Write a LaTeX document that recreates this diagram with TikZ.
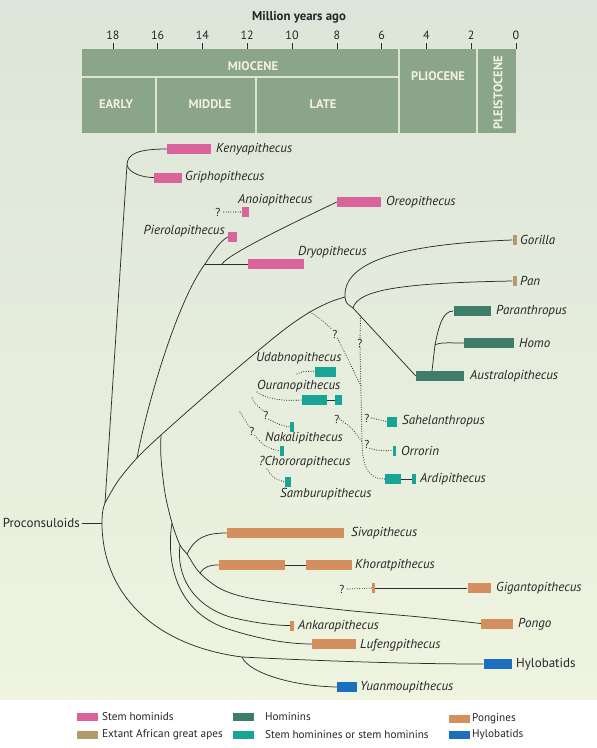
\documentclass[tikz,border=0pt]{standalone}
\usepackage{fontspec}
\setmainfont{PT Sans}
\usetikzlibrary{calc}
\definecolor{pinkc}{HTML}{D9639B}
\definecolor{tanc}{HTML}{B39B6A}
\definecolor{hominc}{HTML}{3E7D69}
\definecolor{stemc}{HTML}{18A596}
\definecolor{pongc}{HTML}{D38F5E}
\definecolor{hyloc}{HTML}{1C6EBF}
\definecolor{boxc}{HTML}{8AA58A}
\definecolor{divc}{HTML}{DCE4D6}
\definecolor{perc}{HTML}{F3F1DE}
\definecolor{linec}{HTML}{2E2E2E}
\definecolor{labc}{HTML}{262626}
\definecolor{bgtop}{HTML}{DCE5D9}
\definecolor{bgbot}{HTML}{EFF4E0}
\begin{document}
\begin{tikzpicture}[x=1pt,y=-1pt,
  br/.style={draw=linec, line width=0.75pt},
  dl/.style={draw=linec, line width=1.1pt, dash pattern=on 0pt off 2.4pt, line cap=round},
  bar/.style={fill=#1, draw=none, inner sep=0pt, minimum height=10pt},
  lab/.style={font=\fontsize{13}{15}\selectfont\itshape, text=labc, inner sep=0pt, anchor=west},
  ulab/.style={font=\fontsize{13}{15}\selectfont, text=labc, inner sep=0pt, anchor=west},
  qm/.style={font=\fontsize{11.5}{13}\selectfont, text=labc, inner sep=0pt},
  leg/.style={font=\fontsize{11.2}{13}\selectfont, text=labc, inner sep=0pt, anchor=west},
  sw/.style={fill=#1, draw=none, inner sep=0pt, minimum width=21pt, minimum height=8pt},
  per/.style={font=\fontsize{12.5}{14}\selectfont\bfseries, text=perc, inner sep=0pt},
  tick/.style={font=\fontsize{12}{14}\selectfont, text=labc, inner sep=0pt}
]
\useasboundingbox (0,0) rectangle (597,748);
\shade[top color=bgtop, bottom color=bgbot] (0,0) rectangle (597,700);
\fill[white] (0,700) rectangle (597,748);

% ---------- time scale ----------
\node[font=\fontsize{12.8}{14}\selectfont\bfseries, text=labc] (title) at (299,17) {Million years ago};
\fill[boxc] (82,49) rectangle (516,133);
\foreach \t in {0,2,...,18}{
  \draw[linec, line width=0.6pt] ({516-22.4*\t},43) -- ({516-22.4*\t},49);
  \node[tick] at ({516-22.4*\t},35) {\t};
}
\draw[divc, line width=1.6pt] (82,77) -- (399,77);
\draw[divc, line width=1.6pt] (156,77) -- (156,133);
\draw[divc, line width=1.6pt] (256,77) -- (256,133);
\draw[divc, line width=1.6pt] (399,49) -- (399,133);
\draw[divc, line width=1.6pt] (477,49) -- (477,133);
\node[per] (mio) at (253,66) {MIOCENE};
\node[per] (early) at (116,104) {EARLY};
\node[per] (middle) at (210,104) {MIDDLE};
\node[per] (late) at (323,104) {LATE};
\node[per] (plio) at (438,76) {PLIOCENE};
\node[per, rotate=90] (pleist) at (498,93) {PLEISTOCENE};

% ---------- bars ----------
\node[bar=pinkc, minimum width=44pt] (kenya) at (189,149) {};
\node[bar=pinkc, minimum width=28pt] (gripho) at (168,177.5) {};
\node[bar=pinkc, minimum width=7pt] (anoia) at (245.5,212) {};
\node[bar=pinkc, minimum width=9pt] (piero) at (232.5,237) {};
\node[bar=pinkc, minimum width=44pt] (oreo) at (359,202) {};
\node[bar=pinkc, minimum width=56pt] (dryo) at (276,264) {};
\node[bar=tanc, minimum width=4pt] (gorilla) at (514.5,240) {};
\node[bar=tanc, minimum width=4pt] (pan) at (514.5,281) {};
\node[bar=hominc, minimum width=37pt] (paran) at (472,311) {};
\node[bar=hominc, minimum width=50pt] (homo) at (489,343) {};
\node[bar=hominc, minimum width=48pt] (austral) at (440,376) {};
\node[bar=stemc, minimum width=21pt] (udab) at (325.5,371.5) {};
\node[bar=stemc, minimum width=25pt] (ouran) at (314.5,400) {};
\node[bar=stemc, minimum width=7pt] (ouranB) at (338.5,400) {};
\node[bar=stemc, minimum width=4pt] (nakali) at (292,427) {};
\node[bar=stemc, minimum width=4pt] (choro) at (281.5,451) {};
\node[bar=stemc, minimum width=6pt] (sambu) at (288,482) {};
\node[bar=stemc, minimum width=10pt] (sahel) at (392,421.5) {};
\node[bar=stemc, minimum width=3pt] (orrorin) at (394.5,450.5) {};
\node[bar=stemc, minimum width=16pt] (ardi) at (393,479) {};
\node[bar=stemc, minimum width=4pt] (ardiB) at (414,479) {};
\node[bar=pongc, minimum width=117pt] (siva) at (285.5,533) {};
\node[bar=pongc, minimum width=66pt] (khorat) at (252,565) {};
\node[bar=pongc, minimum width=46pt] (khoratB) at (329,565) {};
\node[bar=pongc, minimum width=3pt] (giganA) at (373.5,588) {};
\node[bar=pongc, minimum width=23pt] (gigan) at (479,588) {};
\node[bar=pongc, minimum width=32pt] (pongo) at (497,623.5) {};
\node[bar=pongc, minimum width=3.5pt] (ankara) at (292,625.5) {};
\node[bar=pongc, minimum width=44pt] (lufeng) at (334,644) {};
\node[bar=hyloc, minimum width=28pt] (hylo) at (497.5,664) {};
\node[bar=hyloc, minimum width=20pt] (yuan) at (347,687) {};

% ---------- labels ----------
\node[lab] (kenyaT) at (216,149) {Kenyapithecus};
\node[lab] (griphoT) at (185,177.5) {Griphopithecus};
\node[lab] (anoiaT) at (238,200) {Anoiapithecus};
\node[lab, anchor=east] (pieroT) at (225,231) {Pierolapithecus};
\node[lab] (oreoT) at (386,202) {Oreopithecus};
\node[lab] (dryoT) at (298,252) {Dryopithecus};
\node[lab] (gorillaT) at (520,240) {Gorilla};
\node[lab] (panT) at (520,281) {Pan};
\node[lab] (paranT) at (496,311) {Paranthropus};
\node[lab] (homoT) at (519,343) {Homo};
\node[lab] (australT) at (470,376) {Australopithecus};
\node[lab] (udabT) at (256,358) {Udabnopithecus};
\node[lab] (ouranT) at (257,386) {Ouranopithecus};
\node[lab] (nakaliT) at (265,438) {Nakalipithecus};
\node[lab] (choroT) at (259,462) {?Chororapithecus};
\node[lab] (sambuT) at (280,494) {Samburupithecus};
\node[lab] (sahelT) at (402,421.5) {Sahelanthropus};
\node[lab] (orrorinT) at (401,451) {Orrorin};
\node[lab] (ardiT) at (420,479) {Ardipithecus};
\node[lab] (sivaT) at (351,533) {Sivapithecus};
\node[lab] (khoratT) at (355,565) {Khoratpithecus};
\node[lab] (giganT) at (496,588) {Gigantopithecus};
\node[lab] (pongoT) at (518,624) {Pongo};
\node[lab] (ankaraT) at (298,626) {Ankarapithecus};
\node[lab] (lufengT) at (360,645) {Lufengpithecus};
\node[ulab] (hyloT) at (516,664) {Hylobatids};
\node[lab] (yuanT) at (360,687) {Yuanmoupithecus};
\node[ulab, anchor=east] (procon) at (80,523) {Proconsuloids};

% ---------- branch points ----------
\coordinate (root) at (102,523);
\coordinate (split0) at (105,503);
\coordinate (nKG) at (127,165);
\coordinate (dryoB) at (137,458);
\coordinate (pongB) at (161,435);
\coordinate (dotB) at (310,312);
\coordinate (crown) at (345,297);
\coordinate (nP) at (353,308);
\coordinate (nD) at (205,264);
\coordinate (nO) at (222,264);
\coordinate (nA) at (432,371);
\coordinate (nH) at (435,345);
\coordinate (nL) at (172,523);
\coordinate (nAk) at (180,545);
\coordinate (nS) at (187,554);
\coordinate (nK) at (200,573);
\coordinate (nY) at (242,657);
\coordinate (nV) at ($(nP)!0.12!(austral.west)$);

% ---------- solid branches ----------
\draw[br] ([xshift=2pt]procon.east) -- (root);
\draw[br] (root) .. controls (102,513) and (103,508) .. (split0);
\draw[br] (split0) -- (nKG);
\draw[br] (nKG) .. controls (127,153) and (140,149) .. (kenya.west);
\draw[br] (nKG) .. controls (129,173) and (142,177.5) .. (gripho.west);
\draw[br] plot[smooth, tension=0.55] coordinates {(split0) (118,481) (dryoB) (pongB) (205,396) (247,360) (285,329) (dotB) (330,302) (crown)};
\draw[br] (dryoB) .. controls (148,400) and (178,300) .. (nD);
\draw[br] (nD) .. controls (213,252) and (220,241) .. (piero.west);
\draw[br] (nD) -- (dryo.west);
\draw[br] (nO) .. controls (228,254) and (295,222) .. (oreo.west);
\draw[br] (crown) .. controls (343,262) and (400,244) .. (gorilla.west);
\draw[br] (crown) .. controls (346,303) .. (nP);
\draw[br] (nP) .. controls (358,290) and (400,283) .. (pan.west);
\draw[br] (nP) -- (austral.west);
\draw[br] (nA) -- (nH);
\draw[br] (nH) .. controls (440,342) and (450,343) .. (homo.west);
\draw[br] (nH) .. controls (439,325) and (443,311) .. (paran.west);
\draw[br] (ouran.east) -- (ouranB.west);
\draw[br] (ardi.east) -- (ardiB.west);
% pongines
\draw[br] plot[smooth, tension=0.55] coordinates {(pongB) (161,458) (165,493) (nL) (nAk) (nS) (nK) (223,590) (260,600) (343,610) (420,617) (pongo.west)};
\draw[br] (nL) .. controls (166,560) and (175,610) .. (225,628) .. controls (255,638) and (285,644) .. (lufeng.west);
\draw[br] (nAk) .. controls (176,575) and (192,605) .. (230,617) .. controls (255,623) and (275,625.5) .. (ankara.west);
\draw[br] (nS) .. controls (195,538) and (205,533) .. (siva.west);
\draw[br] (nK) .. controls (205,566) and (210,565) .. (khorat.west);
\draw[br] (khorat.east) -- (khoratB.west);
\draw[br] (giganA.east) -- (gigan.west);
% hylobatids
\draw[br] (root) .. controls (102,590) and (150,645) .. (nY) .. controls (300,660) and (400,664) .. (hylo.west);
\draw[br] (nY) .. controls (248,672) and (290,686) .. (yuan.west);

% ---------- dotted / uncertain ----------
\node[qm] (qa) at (218,212) {?};
\draw[dl] ([xshift=3pt]qa.east) -- (anoia.west);
\node[qm] (qg) at (342,589) {?};
\draw[dl] ([xshift=3pt]qg.east) -- (giganA.west);
\node[qm] (q1) at (335,334) {?};
\draw[dl] (dotB) .. controls (322,320) .. (q1.north west);
\draw[dl] (q1.south east) .. controls (350,362) .. (361,386);
\node[qm] (q2) at (360,343) {?};
\draw[dl] (nV) -- (q2.north);
\draw[dl] (q2.south) -- (362,440) .. controls (362,470) and (370,479) .. (ardi.west);
\node[qm] (qs) at (367,418) {?};
\draw[dl] ([xshift=2pt]qs.east) -- (sahel.west);
\node[qm] (qo) at (367,444) {?};
\draw[dl] (qo.south east) .. controls (380,451) .. (orrorin.west);
\node[qm] (q3) at (337,419) {?};
\draw[dl] (q3.east) .. controls (352,428) .. (362,442);
\draw[dl] (297,374) .. controls (304,371) .. (udab.west);
\draw[dl] (257,392) .. controls (268,400) and (285,401) .. (ouran.west);
\node[qm] (qn) at (266,415) {?};
\draw[dl] (252,398) .. controls (256,405) .. (qn.north west);
\draw[dl] (qn.south east) .. controls (280,425) .. (nakali.west);
\node[qm] (qc) at (252,431) {?};
\draw[dl] (240,412) .. controls (244,420) .. (qc.north west);
\draw[dl] (qc.south east) .. controls (265,447) .. (choro.west);
\draw[dl] (267,469) .. controls (273,478) .. (sambu.west);

% ---------- legend ----------
\node[sw=pinkc] (lg1) at (87.5,717) {};
\node[leg] (lg1T) at (102,717) {Stem hominids};
\node[sw=tanc] (lg2) at (87.5,734.5) {};
\node[leg] (lg2T) at (102,734.5) {Extant African great apes};
\node[sw=hominc] (lg3) at (243.5,717) {};
\node[leg] (lg3T) at (265,717) {Hominins};
\node[sw=stemc] (lg4) at (243.5,734.5) {};
\node[leg] (lg4T) at (265,734.5) {Stem hominines or stem hominins};
\node[sw=pongc] (lg5) at (459.5,719) {};
\node[leg] (lg5T) at (472,719) {Pongines};
\node[sw=hyloc] (lg6) at (459.5,735) {};
\node[leg] (lg6T) at (472,735) {Hylobatids};
\end{tikzpicture}
\end{document}
